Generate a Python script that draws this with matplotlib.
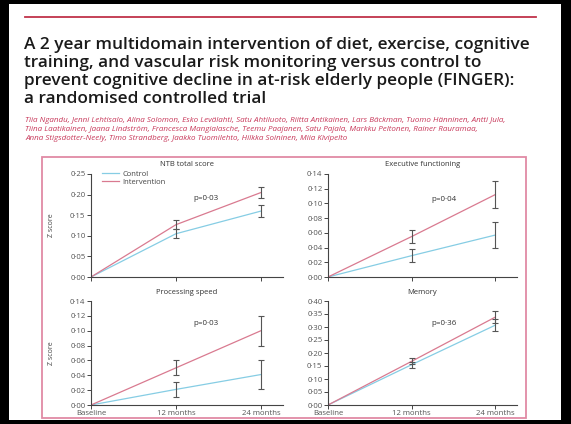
import matplotlib
matplotlib.use("Agg")
import matplotlib.pyplot as plt
from matplotlib.patches import Rectangle
from matplotlib.lines import Line2D
from matplotlib.ticker import FuncFormatter

plt.rcParams['font.family'] = ['Open Sans', 'DejaVu Sans']

# data (z score change from baseline)
timepoints = ["Baseline", "12 months", "24 months"]
panel_titles = ["NTB total score", "Executive functioning", "Processing speed", "Memory"]
control = [[0, 0.105, 0.160], [0, 0.029, 0.057], [0, 0.021, 0.041], [0, 0.155, 0.307]]
control_err = [[0, 0.011, 0.014], [0, 0.009, 0.018], [0, 0.010, 0.019], [0, 0.012, 0.022]]
interv = [[0, 0.127, 0.205], [0, 0.055, 0.112], [0, 0.050, 0.100], [0, 0.168, 0.338]]
interv_err = [[0, 0.011, 0.014], [0, 0.009, 0.018], [0, 0.010, 0.020], [0, 0.012, 0.024]]
p_values = ["p=0·03", "p=0·04", "p=0·03", "p=0·36"]
y_max = [0.25, 0.14, 0.14, 0.40]
y_step = [0.05, 0.02, 0.02, 0.05]

title = ("A 2 year multidomain intervention of diet, exercise, cognitive\n"
         "training, and vascular risk monitoring versus control to\n"
         "prevent cognitive decline in at-risk elderly people (FINGER):\n"
         "a randomised controlled trial")
authors = ("Tiia Ngandu, Jenni Lehtisalo, Alina Solomon, Esko Levälahti, Satu Ahtiluoto, Riitta Antikainen, Lars Bäckman, Tuomo Hänninen, Antti Jula,\n"
           "Tiina Laatikainen, Jaana Lindström, Francesca Mangialasche, Teemu Paajanen, Satu Pajala, Markku Peltonen, Rainer Rauramaa,\n"
           "Anna Stigsdotter-Neely, Timo Strandberg, Jaakko Tuomilehto, Hilkka Soininen, Miia Kivipelto")

W, H = 571, 424
fig = plt.figure(figsize=(W / 100, H / 100), dpi=100)
fig.patch.set_facecolor("black")

def fx(px):
    return px / W

def fy(py):
    return 1 - py / H

# white page (behind everything)
fig.patches.append(Rectangle((fx(9), fy(420)), fx(561 - 9), (420 - 4) / H,
                             transform=fig.transFigure, facecolor="white", edgecolor="none", zorder=-5))
# red rule
fig.lines.append(Line2D([fx(25), fx(536)], [fy(17), fy(17)], transform=fig.transFigure,
                        color="#c0334a", lw=1.3))
fig.text(fx(24), fy(37), title, fontsize=12.4, fontweight="semibold", color="#1a1a1a",
         va="top", ha="left", linespacing=1.17)
fig.text(fx(25), fy(117), authors, fontsize=5.8, style="italic", color="#c8385a",
         va="top", ha="left", linespacing=1.4)
# pink box around the figure
fig.patches.append(Rectangle((fx(42), fy(418)), fx(526 - 42), (418 - 157) / H,
                             transform=fig.transFigure, facecolor="none", edgecolor="#e08aa5", lw=1.3, zorder=1))

axes_px = [(91, 174, 283, 277), (328, 174, 517, 277), (91, 301, 283, 405), (328, 301, 517, 405)]
p_pos = [(1.2, 0.19), (1.24, 0.106), (1.2, 0.11), (1.24, 0.315)]

c_ctrl = "#86cde4"
c_int = "#d97a90"
axis_col = "#444444"
fmt = FuncFormatter(lambda v, pos: f"{v:.2f}".replace(".", "·"))
x = [0, 1, 2]

for i in range(4):
    l, t, r, b = axes_px[i]
    ax = fig.add_axes([fx(l), fy(b), fx(r - l), (b - t) / H])
    ax.set_facecolor("none")
    ax.plot(x, control[i], color=c_ctrl, lw=0.9, label="Control", zorder=2)
    ax.plot(x, interv[i], color=c_int, lw=0.9, label="Intervention", zorder=2)
    ax.errorbar(x[1:], control[i][1:], yerr=control_err[i][1:], fmt="none", ecolor="#555555",
                elinewidth=0.8, capsize=2.3, capthick=0.8, zorder=3)
    ax.errorbar(x[1:], interv[i][1:], yerr=interv_err[i][1:], fmt="none", ecolor="#555555",
                elinewidth=0.8, capsize=2.3, capthick=0.8, zorder=3)
    ax.set_xlim(0, 2.26)
    ax.set_ylim(0, y_max[i])
    n = int(round(y_max[i] / y_step[i]))
    ax.set_yticks([k * y_step[i] for k in range(n + 1)])
    ax.yaxis.set_major_formatter(fmt)
    ax.set_xticks(x)
    if i >= 2:
        ax.set_xticklabels(timepoints)
    else:
        ax.set_xticklabels([])
    for s in ["top", "right"]:
        ax.spines[s].set_visible(False)
    for s in ["left", "bottom"]:
        ax.spines[s].set_color(axis_col)
        ax.spines[s].set_linewidth(0.8)
    ax.tick_params(axis="both", length=3, width=0.7, color=axis_col, labelsize=5.6,
                   labelcolor="#555555", pad=1)
    ax.tick_params(axis="x", pad=0.5)
    ax.text(0.5, 1 + 9 / (b - t), panel_titles[i], transform=ax.transAxes, ha="center",
            va="center", fontsize=5.5, color="#333333")
    ax.text(p_pos[i][0], p_pos[i][1], p_values[i], ha="left", va="center", fontsize=5.8,
            color="#333333")
    if i % 2 == 0:
        ax.set_ylabel("Z score", fontsize=5, color="#444444")
        ax.yaxis.set_label_coords(-0.19, 0.5)
    if i == 0:
        ax.legend(loc="upper left", bbox_to_anchor=(0.04, 1.07), frameon=False, fontsize=5.5,
                  handlelength=2.2, handletextpad=0.4, labelspacing=0.05, borderpad=0,
                  labelcolor="#444444")

fig.savefig("out.png", dpi=100, facecolor=fig.get_facecolor())
